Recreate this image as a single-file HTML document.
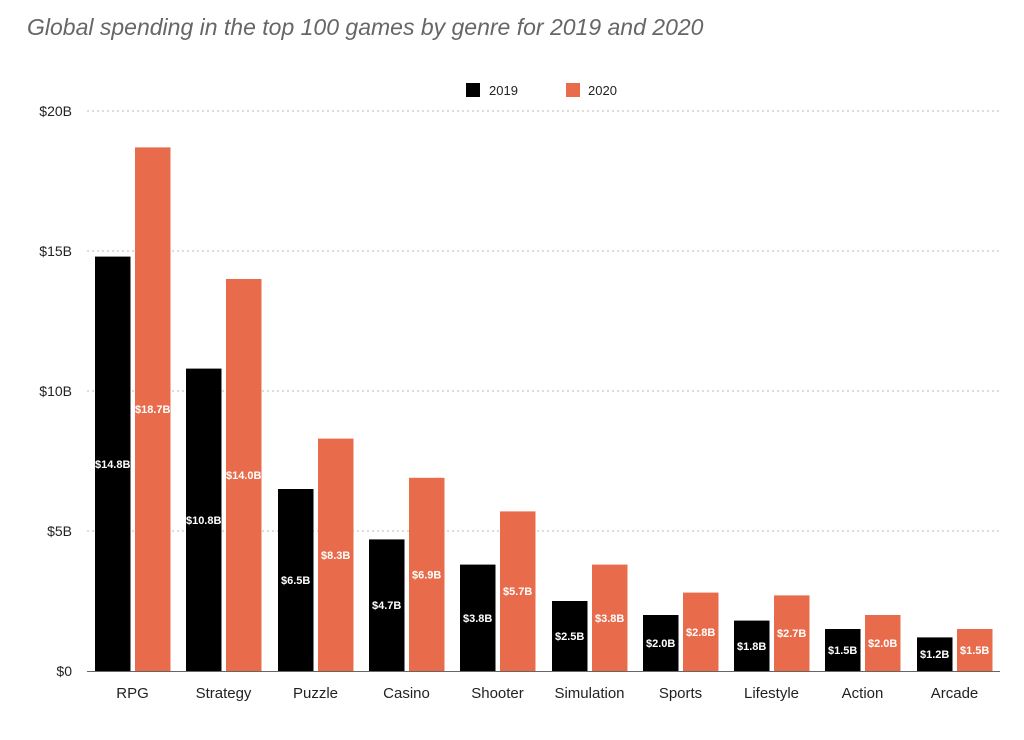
<!DOCTYPE html>
<html><head><meta charset="utf-8"><style>
body{margin:0;background:#fff;width:1024px;height:735px;overflow:hidden;font-family:"Liberation Sans",sans-serif}
</style></head><body>
<svg width="1024" height="735" xmlns="http://www.w3.org/2000/svg" font-family="Liberation Sans, sans-serif">
<text x="27" y="35" font-size="23" font-style="italic" fill="#666">Global spending in the top 100 games by genre for 2019 and 2020</text>
<rect x="466" y="83" width="14" height="14" fill="#000"/>
<text x="489" y="95" font-size="13" fill="#222">2019</text>
<rect x="566" y="83" width="14" height="14" fill="#e86c4b"/>
<text x="588" y="95" font-size="13" fill="#222">2020</text>
<g stroke="#bbb" stroke-dasharray="2,3" stroke-width="1">
<line x1="87" x2="1000" y1="111" y2="111"/><line x1="87" x2="1000" y1="251" y2="251"/>
<line x1="87" x2="1000" y1="391" y2="391"/><line x1="87" x2="1000" y1="531" y2="531"/>
</g>
<g font-size="14" fill="#222" text-anchor="end">
<text x="72" y="116">$20B</text><text x="72" y="256">$15B</text><text x="72" y="396">$10B</text><text x="72" y="536">$5B</text><text x="72" y="676">$0</text>
</g>
<g fill="#000">
<rect x="95" y="256.6" width="35.5" height="414.4"/>
<rect x="186" y="368.6" width="35.5" height="302.4"/>
<rect x="278" y="489" width="35.5" height="182"/>
<rect x="369" y="539.4" width="35.5" height="131.6"/>
<rect x="460" y="564.6" width="35.5" height="106.4"/>
<rect x="552" y="601" width="35.5" height="70"/>
<rect x="643" y="615" width="35.5" height="56"/>
<rect x="734" y="620.6" width="35.5" height="50.4"/>
<rect x="825" y="629" width="35.5" height="42"/>
<rect x="917" y="637.4" width="35.5" height="33.6"/>
</g>
<g fill="#e86c4b">
<rect x="135" y="147.4" width="35.5" height="523.6"/>
<rect x="226" y="279" width="35.5" height="392"/>
<rect x="318" y="438.6" width="35.5" height="232.4"/>
<rect x="409" y="477.8" width="35.5" height="193.2"/>
<rect x="500" y="511.4" width="35.5" height="159.6"/>
<rect x="592" y="564.6" width="35.5" height="106.4"/>
<rect x="683" y="592.6" width="35.5" height="78.4"/>
<rect x="774" y="595.4" width="35.5" height="75.6"/>
<rect x="865" y="615" width="35.5" height="56"/>
<rect x="957" y="629" width="35.5" height="42"/>
</g>
<g font-size="11" font-weight="bold" fill="#fff" text-anchor="middle">
<text x="112.7" y="467.8">$14.8B</text><text x="152.7" y="413.2">$18.7B</text>
<text x="203.7" y="523.8">$10.8B</text><text x="243.7" y="479">$14.0B</text>
<text x="295.7" y="584">$6.5B</text><text x="335.7" y="558.8">$8.3B</text>
<text x="386.7" y="609.2">$4.7B</text><text x="426.7" y="578.4">$6.9B</text>
<text x="477.7" y="621.8">$3.8B</text><text x="517.7" y="595.2">$5.7B</text>
<text x="569.7" y="640">$2.5B</text><text x="609.7" y="621.8">$3.8B</text>
<text x="660.7" y="647">$2.0B</text><text x="700.7" y="635.8">$2.8B</text>
<text x="751.7" y="649.8">$1.8B</text><text x="791.7" y="637.2">$2.7B</text>
<text x="842.7" y="654">$1.5B</text><text x="882.7" y="647">$2.0B</text>
<text x="934.7" y="658.2">$1.2B</text><text x="974.7" y="654">$1.5B</text>
</g>
<line x1="87" x2="1000" y1="671.5" y2="671.5" stroke="#666" stroke-width="1"/>
<g font-size="15" fill="#222" text-anchor="middle">
<text x="132.5" y="698">RPG</text><text x="223.5" y="698">Strategy</text><text x="315.5" y="698">Puzzle</text>
<text x="406.5" y="698">Casino</text><text x="497.5" y="698">Shooter</text><text x="589.5" y="698">Simulation</text>
<text x="680.5" y="698">Sports</text><text x="771.5" y="698">Lifestyle</text><text x="862.5" y="698">Action</text>
<text x="954.5" y="698">Arcade</text>
</g>
</svg>
</body></html>
